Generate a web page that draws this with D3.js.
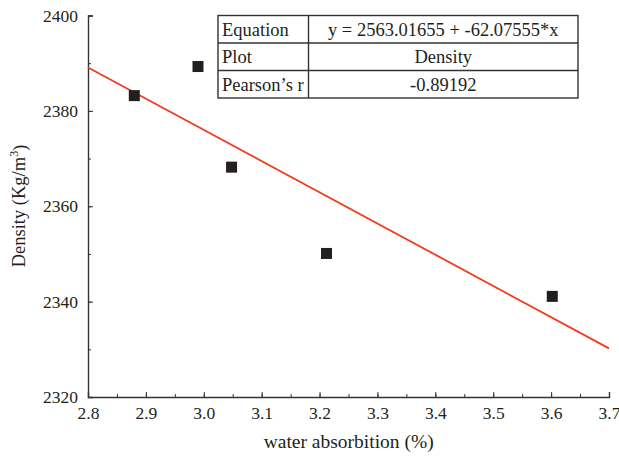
<!DOCTYPE html>
<html>
<head>
<meta charset="utf-8">
<script src="https://cdn.jsdelivr.net/npm/d3@7"></script>
<style>
  html, body { margin: 0; padding: 0; background: #fff; }
  svg text { font-family: "Liberation Serif", "DejaVu Serif", serif !important; }
</style>
</head>
<body>
<svg id="chart" width="619" height="457"></svg>
<script>
// Data
const waterAbsorption = [2.88, 2.99, 3.048, 3.212, 3.602];
const density = [2383.2, 2389.3, 2368.2, 2350.1, 2341.1];
const fitX = [2.8, 3.7];
const fitY = [2389.1, 2330.2];
const xTicks = [2.8, 2.9, 3.0, 3.1, 3.2, 3.3, 3.4, 3.5, 3.6, 3.7];
const yTicks = [2320, 2340, 2360, 2380, 2400];
const tableLabels = ["Equation", "Plot", "Pearson\u2019s r"];
const tableValues = ["y = 2563.01655 + -62.07555*x", "Density", "-0.89192"];

const svg = d3.select("#chart");
const mLeft = 88, mRight = 609, mTop = 15.5, mBottom = 397;
const tickFs = 17.5, tableFs = 18.5;

const x = d3.scaleLinear().domain([2.8, 3.7]).range([mLeft, mRight]);
const y = d3.scaleLinear().domain([2320, 2400]).range([mBottom, mTop]);

const axisColor = "#333";
const txtColor = "#231f20";

// minor ticks
const xMinor = d3.range(0, 19).map(i => 2.8 + i * 0.05);
const yMinor = d3.range(0, 9).map(i => 2320 + i * 10);

const gx = svg.append("g").attr("transform", `translate(0,${mBottom})`);
gx.call(d3.axisBottom(x).tickValues(xMinor).tickSize(-3).tickFormat(""))
  .call(g => g.select(".domain").remove())
  .call(g => g.selectAll("line").attr("stroke", axisColor));
const gx2 = svg.append("g").attr("transform", `translate(0,${mBottom})`);
gx2.call(d3.axisBottom(x).tickValues(xTicks).tickSize(-5).tickPadding(10).tickFormat(d3.format(".1f")))
  .call(g => g.select(".domain").attr("stroke", axisColor).attr("stroke-width", 1.4))
  .call(g => g.selectAll("line").attr("stroke", axisColor))
  .call(g => g.selectAll("text").attr("font-size", tickFs).attr("fill", txtColor));

const gy = svg.append("g").attr("transform", `translate(${mLeft},0)`);
gy.call(d3.axisLeft(y).tickValues(yMinor).tickSize(-3).tickFormat(""))
  .call(g => g.select(".domain").remove())
  .call(g => g.selectAll("line").attr("stroke", axisColor));
const gy2 = svg.append("g").attr("transform", `translate(${mLeft},0)`);
gy2.call(d3.axisLeft(y).tickValues(yTicks).tickSize(-5).tickPadding(10).tickFormat(d3.format("d")))
  .call(g => g.select(".domain").attr("stroke", axisColor).attr("stroke-width", 1.4))
  .call(g => g.selectAll("line").attr("stroke", axisColor))
  .call(g => g.selectAll("text").attr("font-size", tickFs).attr("fill", txtColor));

// fit line
const line = d3.line().x(d => x(d[0])).y(d => y(d[1]));
svg.append("path")
  .datum(d3.zip(fitX, fitY))
  .attr("d", line)
  .attr("fill", "none")
  .attr("stroke", "#f03c1e")
  .attr("stroke-width", 1.8);

// points
const sz = 11;
svg.selectAll("rect.pt")
  .data(d3.zip(waterAbsorption, density))
  .join("rect")
  .attr("class", "pt")
  .attr("x", d => x(d[0]) - sz / 2)
  .attr("y", d => y(d[1]) - sz / 2)
  .attr("width", sz)
  .attr("height", sz)
  .attr("fill", "#231f20");

// table
const tX0 = 218, tX1 = 308.5, tX2 = 578, tY0 = 15.5, rowH = 27.5;
const tg = svg.append("g");
tg.append("rect").attr("x", tX0).attr("y", tY0).attr("width", tX2 - tX0).attr("height", rowH * 3)
  .attr("fill", "#fff").attr("stroke", "#333").attr("stroke-width", 1.4);
tg.append("line").attr("x1", tX1).attr("x2", tX1).attr("y1", tY0).attr("y2", tY0 + rowH * 3)
  .attr("stroke", "#333").attr("stroke-width", 1.4);
for (let i = 1; i < 3; i++) {
  tg.append("line").attr("x1", tX0).attr("x2", tX2).attr("y1", tY0 + rowH * i).attr("y2", tY0 + rowH * i)
    .attr("stroke", "#333").attr("stroke-width", 1.4);
}
tableLabels.forEach((t, i) => {
  tg.append("text").attr("x", tX0 + 4).attr("y", tY0 + rowH * i + rowH / 2)
    .attr("dy", "0.35em").attr("font-size", tableFs).attr("fill", txtColor).text(t);
});
tableValues.forEach((t, i) => {
  tg.append("text").attr("x", (tX1 + tX2) / 2).attr("y", tY0 + rowH * i + rowH / 2)
    .attr("dy", "0.35em").attr("text-anchor", "middle").attr("font-size", tableFs).attr("fill", txtColor).text(t);
});

// axis titles
svg.append("text")
  .attr("x", 348.7)
  .attr("y", 448)
  .attr("text-anchor", "middle")
  .attr("font-size", 19.5)
  .attr("fill", txtColor)
  .text("water absorbition (%)");

const yl = svg.append("text")
  .attr("transform", `translate(25,206) rotate(-90)`)
  .attr("text-anchor", "middle")
  .attr("font-size", 18.5)
  .attr("fill", txtColor);
yl.append("tspan").text("Density (Kg/m");
yl.append("tspan").attr("font-size", 12).attr("dy", "-0.6em").text("3");
yl.append("tspan").attr("dy", "0.45em").text(")");
</script>
</body>
</html>
